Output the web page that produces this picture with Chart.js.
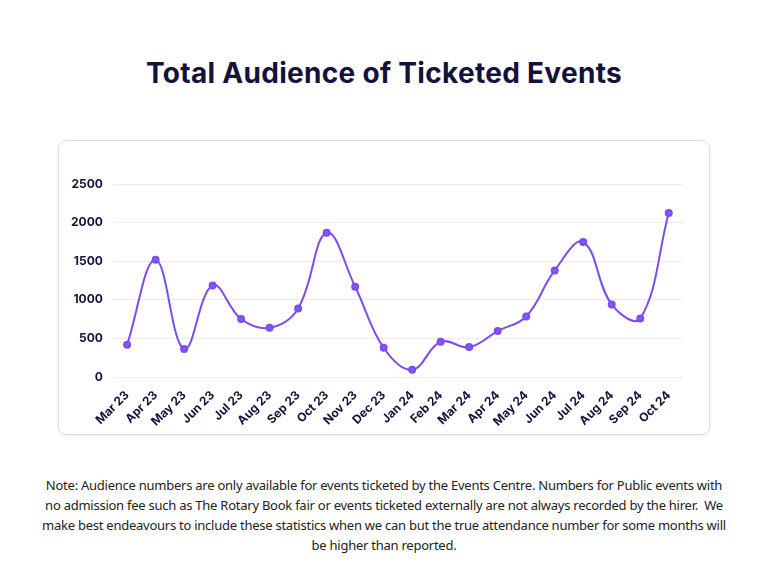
<!DOCTYPE html>
<html>
<head>
<meta charset="utf-8">
<script src="https://cdn.jsdelivr.net/npm/chart.js@4"></script>
<style>
  body { margin: 0; width: 768px; height: 576px; background: #fff; position: relative; font-family: "Inter", sans-serif; }
  h1 { position: absolute; top: 56px; left: 0; width: 768px; margin: 0; text-align: center;
       font-size: 28px; font-weight: 700; color: #14123a; letter-spacing: 0.3px; }
  .card { position: absolute; left: 58px; top: 140px; width: 650px; height: 293px;
          border: 1px solid #dcdcdc; border-radius: 8px; box-shadow: 0 1px 3px rgba(0,0,0,0.08); }
  .note { position: absolute; top: 475px; left: 0; width: 768px; text-align: center;
          font-family: "Noto Sans", sans-serif; font-size: 13px; letter-spacing: -0.25px;
          line-height: 20px; color: #222; }
</style>
</head>
<body>
<h1>Total Audience of Ticketed Events</h1>
<div class="card"><canvas id="audienceChart"></canvas></div>
<div class="note">Note: Audience numbers are only available for events ticketed by the Events Centre. Numbers for Public events with<br>no admission fee such as The Rotary Book fair or events ticketed externally are not always recorded by the hirer.&nbsp; We<br>make best endeavours to include these statistics when we can but the true attendance number for some months will<br>be higher than reported.</div>
<script>
let months = ["Mar 23", "Apr 23", "May 23", "Jun 23", "Jul 23", "Aug 23", "Sep 23", "Oct 23", "Nov 23", "Dec 23",
              "Jan 24", "Feb 24", "Mar 24", "Apr 24", "May 24", "Jun 24", "Jul 24", "Aug 24", "Sep 24", "Oct 24"];
let audience = [418, 1519, 363, 1187, 751, 639, 889, 1869, 1170, 380,
                95, 457, 388, 596, 785, 1381, 1748, 940, 759, 2124];
let yTicks = [0, 500, 1000, 1500, 2000, 2500];

let ctx = document.getElementById('audienceChart').getContext('2d');
let chartInstance = new Chart(ctx, {
    type: 'line',
    data: {
        labels: months,
        datasets: [{
            label: 'Total Audience',
            data: audience,
            borderColor: '#7b4cf0',
            backgroundColor: '#8a55f5',
            borderWidth: 2,
            pointRadius: 3,
            pointHoverRadius: 3,
            tension: 0.4,
            fill: false
        }]
    },
    options: {
        responsive: true,
        maintainAspectRatio: false,
        animation: false,
        layout: { padding: { top: 43, left: 2, right: 26, bottom: 2 } },
        plugins: {
            legend: { display: false },
            tooltip: { enabled: false }
        },
        scales: {
            x: {
                offset: true,
                grid: { display: false },
                border: { display: false },
                ticks: {
                    color: '#14123a',
                    font: { family: 'Inter', size: 12, weight: '700' },
                    maxRotation: 45,
                    minRotation: 45,
                    autoSkip: false
                }
            },
            y: {
                min: yTicks[0],
                max: yTicks[yTicks.length - 1],
                grid: { color: '#ececec', drawTicks: false },
                border: { display: false },
                afterBuildTicks: axis => { axis.ticks = yTicks.map(v => ({ value: v })); },
                ticks: {
                    color: '#14123a',
                    padding: 10,
                    callback: value => String(value),
                    font: { family: 'Inter', size: 12, weight: '700' }
                }
            }
        }
    }
});
</script>
</body>
</html>
